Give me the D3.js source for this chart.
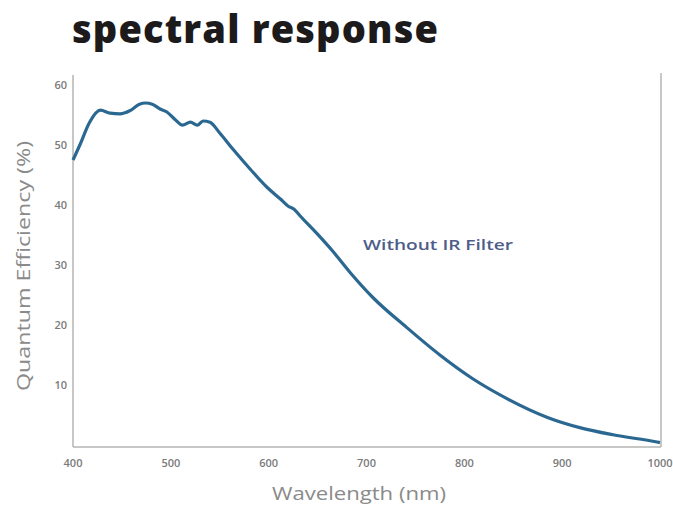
<!DOCTYPE html>
<html><head><meta charset="utf-8">
<script src="https://cdn.jsdelivr.net/npm/d3@7"></script>
<style>body{margin:0;background:#fff}svg{display:block}</style>
</head><body>
<script>
const wavelength = [400,407,417,428,438,448,458,468,474,481,489,496,504,512,520,527,533,540,550,564,581,598,612,620,626,632,649,666,683,707,741,775,809,844,885,918,952,997,1000];
const qe = [47.5,50,53.8,55.8,55.3,55.2,55.7,56.8,57.0,56.8,56.0,55.5,54.3,53.3,53.8,53.3,54.0,53.8,52.0,49.2,46.0,43.0,41.0,39.8,39.3,38.2,35.3,32.2,28.8,24.5,19.6,15.0,11.0,7.7,4.6,2.9,1.7,0.5,0.4];
const xTicks = [400,500,600,700,800,900,1000];
const yTicks = [10,20,30,40,50,60];

const W=673,H=509;
const svg=d3.select("body").append("svg").attr("width",W).attr("height",H);
const x=d3.scaleLinear().domain([400,1000]).range([73,660]);
const y=d3.scaleLinear().domain([0,60]).range([445,85]);

svg.append("text").attr("x",72).attr("y",43).text("spectral response")
  .attr("font-family","Open Sans").attr("font-weight",800).attr("font-size",38)
  .attr("textLength",366).attr("lengthAdjust","spacing").attr("fill","#1c1a1a");

// frame
const g=svg.append("g").attr("stroke","#b5b5b5").attr("stroke-width",1.5);
g.append("line").attr("x1",73).attr("x2",73).attr("y1",75).attr("y2",447);
g.append("line").attr("x1",73).attr("x2",661).attr("y1",447).attr("y2",447);
g.append("line").attr("x1",661).attr("x2",661).attr("y1",73).attr("y2",447);

svg.append("g").selectAll("text").data(yTicks).join("text")
  .attr("x",67).attr("y",d=>y(d)+4).attr("text-anchor","end")
  .attr("font-family","Open Sans").attr("font-weight",600).attr("font-size",11).attr("fill","#7a7a7a").text(d=>d);
svg.append("g").selectAll("text").data(xTicks).join("text")
  .attr("x",d=>x(d)).attr("y",467).attr("text-anchor","middle")
  .attr("font-family","Open Sans").attr("font-weight",600).attr("font-size",11).attr("fill","#7a7a7a").text(d=>d);

svg.append("text").attr("transform","translate(30,266) rotate(-90)").attr("text-anchor","middle")
  .attr("font-family","Open Sans").attr("font-size",18).attr("fill","#8a8a8a")
  .attr("textLength",250).attr("lengthAdjust","spacingAndGlyphs").text("Quantum Efficiency (%)");
svg.append("text").attr("x",359).attr("y",500).attr("text-anchor","middle")
  .attr("font-family","Open Sans").attr("font-size",18).attr("fill","#8a8a8a")
  .attr("textLength",174).attr("lengthAdjust","spacingAndGlyphs").text("Wavelength (nm)");

const line=d3.line().x((d,i)=>x(wavelength[i])).y(d=>y(d)).curve(d3.curveMonotoneX);
svg.append("path").datum(qe).attr("d",line).attr("fill","none")
  .attr("stroke","#2b6891").attr("stroke-width",3.2).attr("stroke-linejoin","round");

svg.append("text").attr("x",363).attr("y",250).attr("font-family","Open Sans").attr("font-weight",600).attr("font-size",15)
  .attr("textLength",150).attr("lengthAdjust","spacingAndGlyphs")
  .attr("fill","#4f5d8a").text("Without IR Filter");
</script>
</body></html>
